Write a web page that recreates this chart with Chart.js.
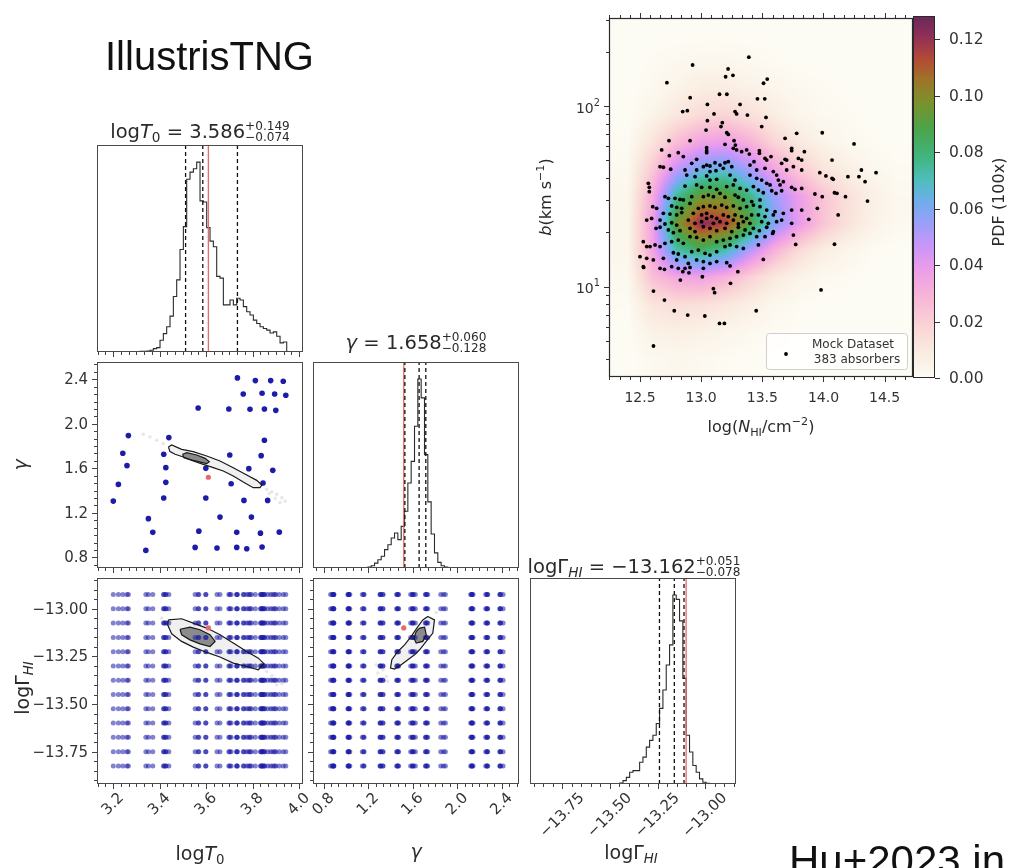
<!DOCTYPE html>
<html>
<head>
<meta charset="utf-8">
<title>IllustrisTNG posterior</title>
<script src="https://cdn.jsdelivr.net/npm/chart.js@4.4.0/dist/chart.umd.min.js"></script>
<style>
  html, body { margin: 0; padding: 0; background: #fff; }
  #page { position: relative; width: 1014px; height: 868px; overflow: hidden; }
  #page canvas { position: absolute; left: 0; top: 0; }
</style>
</head>
<body>
<div id="page">
  <canvas id="histT0" width="1014" height="868"></canvas>
  <canvas id="gammaT0" width="1014" height="868"></canvas>
  <canvas id="lgT0" width="1014" height="868"></canvas>
  <canvas id="histGamma" width="1014" height="868"></canvas>
  <canvas id="lgGamma" width="1014" height="868"></canvas>
  <canvas id="histLg" width="1014" height="868"></canvas>
  <canvas id="bN" width="1014" height="868"></canvas>
  <canvas id="cbar" width="1014" height="868"></canvas>
</div>
<script>
// ---------- data ----------

// emulator training models: (logT0, gamma) of each simulation
const modelLogT0 = [3.201, 3.223, 3.242, 3.260, 3.266, 3.341, 3.352, 3.371, 3.418, 3.418, 3.427, 3.427,
  3.440, 3.553, 3.566, 3.569, 3.599, 3.599, 3.647, 3.660, 3.698, 3.702, 3.708, 3.735, 3.732, 3.732,
  3.760, 3.763, 3.775, 3.784, 3.789, 3.795, 3.812, 3.834, 3.841, 3.837, 3.841, 3.845, 3.851, 3.851,
  3.865, 3.878, 3.887, 3.895, 3.900, 3.915, 3.932, 3.943];
const modelGamma = [1.306, 1.456, 1.735, 1.624, 1.894, 0.863, 1.148, 1.025, 1.333, 1.726, 1.606, 1.474,
  1.876, 0.890, 2.142, 1.036, 1.600, 1.333, 0.884, 1.162, 2.133, 1.720, 1.462, 2.412, 1.025, 0.890,
  2.268, 1.312, 0.878, 1.597, 2.130, 1.162, 2.388, 1.018, 0.893, 1.714, 2.274, 1.468, 2.133, 1.852,
  1.312, 2.388, 1.582, 2.268, 2.121, 1.027, 2.382, 2.256];
// photoionisation rates paired with every thermal model
const gridLogGammaHI = [-12.925, -13.0, -13.075, -13.15, -13.225, -13.3, -13.375, -13.45, -13.525,
  -13.6, -13.675, -13.75, -13.825];

// true parameters of the mock
const truthLogT0 = 3.61, truthGamma = 1.52, truthLogGammaHI = -13.10;

// marginal posteriors (peak = 100), bins start + width
const t0BinStart = 3.316, t0BinWidth = 0.01434;
const t0Counts = [0.4, 0.4, 0.5, 0.9, 1.8, 2.3, 6.2, 9.7, 13.3, 18.9, 29.2, 38, 54, 66, 91, 94.7, 96.5,
  100, 79.6, 79, 65.5, 58.4, 55.4, 39.8, 38.9, 24.8, 24.8, 27.4, 24.8, 28.3, 27.4, 23.9, 21.2, 19.5,
  16.8, 15, 13.3, 12.4, 11.5, 10, 10.6, 8.3, 4.8, 5.3];
const gammaBinStart = 1.198, gammaBinWidth = 0.0299;
const gammaCounts = [0.5, 1.2, 2.6, 4.4, 6.2, 9.7, 12.3, 15.9, 18.5, 15, 22, 30, 45, 56.4, 75, 100,
  90, 60, 35, 18, 8, 3, 1.2, 0.5];
const lgBinStart = -13.449, lgBinWidth = 0.01747;
const lgCounts = [0.5, 1.8, 3.5, 6.2, 7.1, 7.1, 11.5, 14.2, 19.5, 23.1, 25.8, 32, 40, 49.7, 63, 73.6,
  100, 97.7, 86.3, 55.9, 25.8, 16.9, 9.8, 6.2, 2.7, 0.9, 0.4];

// 16th / 50th / 84th percentiles
const qLogT0 = [3.512, 3.586, 3.735];
const qGamma = [1.530, 1.658, 1.718];
const qLogGammaHI = [-13.240, -13.162, -13.111];

// 68% / 95% contours of the joint posteriors
const cT0GammaOuter = [[3.438, 1.791], [3.452, 1.810], [3.495, 1.771], [3.545, 1.750], [3.603, 1.711],
  [3.660, 1.666], [3.717, 1.606], [3.775, 1.540], [3.818, 1.492], [3.840, 1.450], [3.832, 1.426],
  [3.803, 1.426], [3.760, 1.477], [3.717, 1.531], [3.674, 1.576], [3.631, 1.606], [3.588, 1.636],
  [3.545, 1.666], [3.502, 1.702], [3.467, 1.726], [3.445, 1.750]];
const cT0GammaInner = [[3.499, 1.726], [3.517, 1.741], [3.560, 1.720], [3.596, 1.690], [3.614, 1.660],
  [3.603, 1.642], [3.567, 1.660], [3.531, 1.678], [3.505, 1.696]];
const cT0LgOuter = [[3.438, -13.058], [3.495, -13.052], [3.545, -13.075], [3.603, -13.101], [3.660, -13.136],
  [3.717, -13.180], [3.775, -13.224], [3.825, -13.259], [3.849, -13.288], [3.825, -13.320], [3.775, -13.303],
  [3.717, -13.285], [3.660, -13.253], [3.603, -13.229], [3.545, -13.201], [3.495, -13.171], [3.452, -13.131],
  [3.435, -13.084]];
const cT0LgInner = [[3.488, -13.107], [3.531, -13.096], [3.574, -13.110], [3.617, -13.136], [3.639, -13.171],
  [3.617, -13.198], [3.574, -13.184], [3.531, -13.163], [3.495, -13.136]];
const cGammaLgOuter = [[1.736, -13.040], [1.796, -13.058], [1.781, -13.127], [1.722, -13.171], [1.662, -13.215],
  [1.617, -13.241], [1.557, -13.267], [1.497, -13.294], [1.437, -13.316], [1.401, -13.311], [1.413, -13.267],
  [1.467, -13.224], [1.527, -13.189], [1.587, -13.145], [1.647, -13.093], [1.691, -13.058]];
const cGammaLgInner = [[1.662, -13.101], [1.707, -13.096], [1.722, -13.136], [1.691, -13.171], [1.632, -13.180],
  [1.611, -13.154], [1.632, -13.119]];

// loose MCMC samples outside the contours
const tailT0Gamma = [[3.330, 1.906], [3.359, 1.881], [3.388, 1.852], [3.416, 1.822], [3.861, 1.411],
  [3.883, 1.390], [3.904, 1.366], [3.926, 1.337], [3.940, 1.306], [3.897, 1.330], [3.872, 1.373], [3.918, 1.292]];
const tailT0Lg = [[3.409, -13.049], [3.424, -13.072], [3.861, -13.329], [3.883, -13.351], [3.904, -13.372],
  [3.926, -13.393], [3.904, -13.399], [3.875, -13.369]];
const tailGammaLg = [[1.318, -13.302], [1.288, -13.337], [1.363, -13.355], [1.333, -13.320], [1.377, -13.381],
  [1.273, -13.294], [1.812, -13.019]];

// mock absorbers: [log N_HI, log10 b]
const absorbers = [
  [12.93, 2.227], [13.39, 2.270], [12.72, 2.129], [13.22, 2.205], [13.20, 2.162], [13.26, 2.170], [13.54, 2.149],
  [13.51, 2.126], [12.91, 2.046], [13.15, 2.065], [13.21, 2.065], [13.46, 2.040], [13.52, 2.040],
  [13.051, 2.009], [13.318, 2.009], [12.849, 1.969], [12.887, 1.974], [13.277, 1.969], [13.290, 1.956],
  [13.105, 1.956], [13.378, 1.950], [13.530, 1.937], [13.051, 1.919], [13.173, 1.908], [13.162, 1.886],
  [13.495, 1.886], [13.040, 1.867], [13.209, 1.852], [13.222, 1.843], [12.737, 1.808], [12.909, 1.808],
  [13.686, 1.821], [13.781, 1.849], [13.269, 1.808], [13.280, 1.784], [13.195, 1.788], [13.045, 1.769],
  [13.045, 1.753], [13.045, 1.742], [12.677, 1.757], [12.813, 1.742], [12.740, 1.725], [12.854, 1.720],
  [13.263, 1.766], [13.290, 1.757], [13.331, 1.747], [13.372, 1.757], [13.394, 1.734], [13.476, 1.753],
  [13.476, 1.738], [13.740, 1.766], [13.740, 1.753], [13.844, 1.747], [13.571, 1.720], [13.432, 1.692],
  [13.522, 1.710], [13.536, 1.701], [13.686, 1.705], [13.699, 1.701], [13.658, 1.683], [13.795, 1.710],
  [13.822, 1.701], [12.923, 1.683], [12.963, 1.705], [13.018, 1.664], [13.045, 1.673], [13.072, 1.668],
  [13.113, 1.686], [13.154, 1.673], [13.195, 1.686], [13.222, 1.692], [13.250, 1.664], [12.664, 1.664],
  [12.691, 1.661], [12.751, 1.650], [12.868, 1.646], [12.963, 1.646], [13.072, 1.637], [13.121, 1.642],
  [13.181, 1.655], [13.399, 1.673], [13.454, 1.646], [13.522, 1.655], [13.590, 1.637], [13.617, 1.618],
  [13.699, 1.646], [13.754, 1.664], [13.822, 1.646], [12.568, 1.572], [12.576, 1.550], [12.576, 1.526],
  [12.882, 1.618], [12.950, 1.609], [13.045, 1.613], [13.072, 1.590], [13.127, 1.594], [13.236, 1.618],
  [13.277, 1.590], [13.399, 1.618], [13.454, 1.600], [13.495, 1.590], [13.536, 1.572], [13.563, 1.563],
  [13.631, 1.590], [13.645, 1.563], [13.658, 1.531], [13.740, 1.550], [13.767, 1.539], [12.868, 1.557],
  [12.963, 1.563], [13.004, 1.550], [13.072, 1.550], [13.127, 1.539], [13.209, 1.554], [13.263, 1.563],
  [13.318, 1.544], [13.372, 1.535], [13.427, 1.554], [13.468, 1.535], [13.508, 1.520], [13.577, 1.531],
  [13.612, 1.517], [13.672, 1.581], [12.704, 1.498], [12.732, 1.489], [12.786, 1.489], [12.827, 1.483],
  [12.854, 1.480], [12.923, 1.498], [13.018, 1.498], [13.059, 1.507], [13.100, 1.498], [13.154, 1.517],
  [13.195, 1.495], [13.277, 1.507], [13.304, 1.495], [13.345, 1.480], [13.413, 1.471], [13.481, 1.480],
  [13.822, 1.544], [13.740, 1.424], [13.822, 1.424], [12.604, 1.443], [12.636, 1.434], [12.759, 1.447],
  [12.800, 1.439], [12.841, 1.434], [12.909, 1.461], [12.977, 1.434], [13.018, 1.443], [13.072, 1.447],
  [13.113, 1.439], [13.168, 1.452], [13.209, 1.439], [13.263, 1.447], [13.318, 1.434], [13.372, 1.443],
  [13.427, 1.452], [13.481, 1.443], [13.536, 1.424], [13.604, 1.415], [13.672, 1.406], [12.691, 1.406],
  [12.745, 1.402], [12.800, 1.397], [12.841, 1.410], [12.936, 1.406], [13.004, 1.397], [13.045, 1.406],
  [13.086, 1.388], [13.127, 1.378], [13.181, 1.397], [13.222, 1.388], [13.277, 1.397], [13.331, 1.388],
  [13.372, 1.378], [13.413, 1.397], [13.468, 1.397], [13.522, 1.388], [13.590, 1.397], [12.555, 1.369],
  [12.595, 1.378], [12.664, 1.369], [12.704, 1.347], [12.759, 1.354], [12.800, 1.341], [12.895, 1.369],
  [12.950, 1.351], [13.004, 1.360], [13.045, 1.378], [13.100, 1.351], [13.154, 1.360], [13.209, 1.351],
  [13.263, 1.369], [13.304, 1.347], [13.345, 1.360], [13.399, 1.351], [13.495, 1.360], [13.549, 1.351],
  [13.617, 1.360], [13.658, 1.369], [13.740, 1.351], [12.631, 1.323], [12.664, 1.329], [12.732, 1.314],
  [12.773, 1.299], [12.827, 1.310], [12.909, 1.323], [12.950, 1.305], [13.018, 1.332], [13.072, 1.323],
  [13.127, 1.310], [13.195, 1.323], [13.250, 1.305], [13.304, 1.329], [13.359, 1.314], [13.427, 1.323],
  [13.476, 1.310], [13.536, 1.329], [13.590, 1.305], [12.527, 1.249], [12.555, 1.222], [12.582, 1.222],
  [12.623, 1.231], [12.664, 1.222], [12.704, 1.240], [12.759, 1.249], [12.813, 1.258], [12.854, 1.240],
  [12.909, 1.277], [12.963, 1.273], [13.018, 1.258], [13.072, 1.277], [13.127, 1.249], [13.181, 1.258],
  [13.236, 1.268], [13.290, 1.277], [13.345, 1.286], [13.399, 1.295], [13.454, 1.277], [13.522, 1.277],
  [13.585, 1.295], [13.754, 1.286], [13.468, 1.231], [13.773, 1.234], [12.773, 1.188], [12.813, 1.181],
  [12.868, 1.166], [12.923, 1.194], [12.977, 1.203], [13.032, 1.185], [13.072, 1.175], [13.127, 1.194],
  [13.195, 1.222], [13.236, 1.231], [13.290, 1.222], [13.345, 1.212], [12.500, 1.166], [12.555, 1.157],
  [12.609, 1.148], [12.691, 1.157], [12.800, 1.148], [12.895, 1.129], [12.963, 1.148], [13.018, 1.139],
  [13.072, 1.129], [13.127, 1.139], [13.209, 1.133], [13.236, 1.115], [13.508, 1.151], [12.527, 1.111],
  [12.664, 1.102], [12.759, 1.111], [12.813, 1.102], [12.868, 1.102], [12.909, 1.107], [13.018, 1.102],
  [13.99, 1.852], [14.25, 1.790], [14.07, 1.701], [13.97, 1.631], [14.02, 1.613], [14.07, 1.600],
  [14.08, 1.594], [14.20, 1.609], [14.29, 1.609], [14.31, 1.646], [14.34, 1.581], [14.43, 1.631],
  [14.18, 1.498], [14.36, 1.474], [13.95, 1.434], [13.88, 1.373], [14.12, 1.397], [14.09, 1.235],
  [13.98, 0.982], [13.93, 1.513], [13.99, 1.498], [14.09, 1.520], [14.11, 1.517],
  [12.61, 0.976], [12.70, 0.926], [12.78, 0.867], [12.89, 0.843], [13.03, 0.838], [13.15, 0.797],
  [13.19, 0.797], [13.45, 0.867], [12.61, 0.672], [13.10, 0.989], [13.11, 0.967], [13.24, 1.019],
  [13.01, 1.055], [12.85, 1.083], [12.90, 1.077], [12.70, 1.096], [12.83, 1.037], [13.30, 1.083],
  [12.53, 1.107]
];

// smoothed PDF of the mock (colour-bar units) on a coarse grid
const pdfLogN = [12.4, 12.6, 12.8, 13.0, 13.2, 13.4, 13.6, 13.8, 14.0, 14.2, 14.4, 14.6];
const pdfLogB = [0.6, 0.75, 0.9, 1.05, 1.2, 1.35, 1.5, 1.65, 1.8, 1.95, 2.1, 2.25, 2.4];
const pdfValues = [
  [0, 0.002, 0.003, 0.002, 0.001, 0, 0, 0, 0, 0, 0, 0],
  [0, 0.006, 0.007, 0.006, 0.004, 0.002, 0.001, 0, 0, 0, 0, 0],
  [0.001, 0.012, 0.015, 0.014, 0.011, 0.007, 0.003, 0.001, 0, 0, 0, 0],
  [0.002, 0.025, 0.034, 0.036, 0.030, 0.019, 0.010, 0.005, 0.002, 0.001, 0, 0],
  [0.003, 0.035, 0.072, 0.082, 0.072, 0.050, 0.030, 0.016, 0.008, 0.004, 0.001, 0],
  [0.003, 0.036, 0.095, 0.122, 0.116, 0.090, 0.060, 0.040, 0.024, 0.013, 0.006, 0.002],
  [0.003, 0.032, 0.075, 0.095, 0.095, 0.078, 0.055, 0.038, 0.024, 0.014, 0.007, 0.002],
  [0.002, 0.022, 0.048, 0.062, 0.065, 0.052, 0.035, 0.022, 0.012, 0.007, 0.003, 0.001],
  [0.001, 0.012, 0.026, 0.036, 0.038, 0.030, 0.018, 0.010, 0.005, 0.002, 0.001, 0],
  [0, 0.005, 0.011, 0.016, 0.018, 0.014, 0.008, 0.004, 0.002, 0.001, 0, 0],
  [0, 0.002, 0.005, 0.008, 0.008, 0.006, 0.004, 0.002, 0.001, 0, 0, 0],
  [0, 0.001, 0.002, 0.003, 0.003, 0.002, 0.001, 0, 0, 0, 0, 0],
  [0, 0, 0, 0, 0, 0, 0, 0, 0, 0, 0, 0]
];

// ---------- styling helpers ----------
const W = 1014, H = 868;
const FONT = "'DejaVu Sans'";
const ARIAL = "'Liberation Sans', Arial";
const BLUE = '#1c1ca8';
const RED = '#e66a68';

function steps(a, b, d) {
  const out = [];
  for (let v = a; v <= b + 1e-9; v += d) out.push(+v.toFixed(6));
  return out;
}
const minus = s => s.replace('-', '\u2212');

// colour map of the PDF bar
const cmapStops = [
  [0.000, [253, 252, 244]], [0.008, [250, 238, 226]], [0.018, [250, 214, 214]], [0.028, [248, 184, 214]],
  [0.038, [238, 158, 232]], [0.046, [205, 150, 248]], [0.054, [160, 158, 250]], [0.062, [115, 172, 238]],
  [0.070, [80, 190, 190]], [0.078, [65, 182, 130]], [0.088, [75, 165, 75]], [0.098, [125, 145, 45]],
  [0.106, [160, 115, 40]], [0.113, [180, 75, 55]], [0.120, [150, 50, 85]], [0.1283, [105, 40, 90]]
];
function cmap(v) {
  if (v <= cmapStops[0][0]) return cmapStops[0][1];
  for (let i = 1; i < cmapStops.length; i++) {
    const [v1, c1] = cmapStops[i];
    if (v <= v1) {
      const [v0, c0] = cmapStops[i - 1];
      const f = (v - v0) / (v1 - v0);
      return [0, 1, 2].map(k => c0[k] + f * (c1[k] - c0[k]));
    }
  }
  return cmapStops[cmapStops.length - 1][1];
}

// bilinear shading of the PDF grid (like imshow interpolation)
function samplePdf(ln, lb) {
  const idx = (arr, v) => {
    if (v <= arr[0]) return [0, 0];
    if (v >= arr[arr.length - 1]) return [arr.length - 2, 1];
    let i = 0;
    while (arr[i + 1] < v) i++;
    return [i, (v - arr[i]) / (arr[i + 1] - arr[i])];
  };
  const [i, fx] = idx(pdfLogN, ln);
  const [j, fy] = idx(pdfLogB, lb);
  const g = pdfValues;
  const a = g[j][i] * (1 - fx) + g[j][i + 1] * fx;
  const b = g[j + 1][i] * (1 - fx) + g[j + 1][i + 1] * fx;
  return a * (1 - fy) + b * fy;
}

// text with sub/superscripts, drawn on the canvas
function drawRich(ctx, t) {
  const fam = t.family || FONT, sz = t.size;
  const fontFor = kind => {
    const it = kind === 'i' || kind === 'subi';
    const sm = kind === 'sub' || kind === 'subi' || kind === 'sup';
    const size = kind === 'pm' ? sz * 0.62 : sm ? sz * 0.7 : sz;
    return (it ? 'italic ' : '') + size + 'px ' + fam;
  };
  const segs = t.parts.map(([txt, kind = '']) => {
    ctx.font = fontFor(kind);
    const w = kind === 'pm'
      ? Math.max(ctx.measureText(txt[0]).width, ctx.measureText(txt[1]).width)
      : ctx.measureText(txt).width;
    return { txt, kind, w };
  });
  const total = segs.reduce((s, g) => s + g.w, 0);
  let x = t.align === 'left' ? 0 : t.align === 'right' ? -total : -total / 2;
  ctx.save();
  ctx.translate(t.x, t.y);
  if (t.angle) ctx.rotate(t.angle);
  ctx.fillStyle = t.color || '#2a2a2a';
  ctx.textAlign = 'left';
  ctx.textBaseline = 'alphabetic';
  segs.forEach(g => {
    ctx.font = fontFor(g.kind);
    if (g.kind === 'pm') {
      ctx.fillText(g.txt[0], x, -0.42 * sz);
      ctx.fillText(g.txt[1], x, 0.14 * sz);
    } else {
      const dy = g.kind === 'sup' ? -0.42 * sz : (g.kind === 'sub' || g.kind === 'subi') ? 0.22 * sz : 0;
      ctx.fillText(g.txt, x, dy);
    }
    x += g.w;
  });
  ctx.restore();
}

// frame, outward ticks, tick labels and free text
function drawAxis(chart, ax) {
  const ctx = chart.ctx, a = chart.chartArea, s = chart.scales[ax.scale];
  const lo = Math.min(s.min, s.max), hi = Math.max(s.min, s.max);
  const inside = v => v >= lo - 1e-9 && v <= hi + 1e-9;
  ctx.strokeStyle = ax.color || '#444';
  ctx.lineWidth = 1;
  const mark = (v, len) => {
    const p = Math.round(s.getPixelForValue(v)) + 0.5;
    ctx.beginPath();
    if (ax.side === 'bottom') { ctx.moveTo(p, a.bottom); ctx.lineTo(p, a.bottom + len); }
    else if (ax.side === 'top') { ctx.moveTo(p, a.top); ctx.lineTo(p, a.top - len); }
    else if (ax.side === 'left') { ctx.moveTo(a.left, p); ctx.lineTo(a.left - len, p); }
    else { ctx.moveTo(a.right, p); ctx.lineTo(a.right + len, p); }
    ctx.stroke();
  };
  (ax.minor || []).filter(inside).forEach(v => mark(v, 3));
  ax.major.filter(inside).forEach(v => mark(v, 5));
  if (!ax.fmt) return;
  const size = ax.size || 15, pad = ax.pad || 4;
  ctx.fillStyle = '#333';
  ax.major.filter(inside).forEach(v => {
    const p = s.getPixelForValue(v);
    const lab = ax.fmt(v);
    ctx.font = size + 'px ' + FONT;
    if (Array.isArray(lab)) {
      // base with a raised exponent, right-aligned at the left spine
      const wb = ctx.measureText(lab[0]).width;
      ctx.font = (size * 0.7) + 'px ' + FONT;
      const we = ctx.measureText(lab[1]).width;
      const xr = a.left - 5 - pad;
      ctx.textAlign = 'left';
      ctx.textBaseline = 'middle';
      ctx.fillText(lab[1], xr - we, p - 3);
      ctx.font = size + 'px ' + FONT;
      ctx.fillText(lab[0], xr - we - wb, p + 3);
      return;
    }
    if (ax.side === 'bottom' && ax.rotate) {
      const L = ctx.measureText(lab).width, h = size * 0.73;
      const cy = a.bottom + 5 + pad + (L + h) * 0.3536;
      ctx.save();
      ctx.translate(p, cy);
      ctx.rotate(-Math.PI / 4);
      ctx.textAlign = 'center';
      ctx.textBaseline = 'middle';
      ctx.fillText(lab, 0, 0);
      ctx.restore();
    } else if (ax.side === 'bottom') {
      ctx.textAlign = 'center';
      ctx.textBaseline = 'top';
      ctx.fillText(lab, p, a.bottom + 5 + pad);
    } else if (ax.side === 'left') {
      ctx.textAlign = 'right';
      ctx.textBaseline = 'middle';
      ctx.fillText(lab, a.left - 5 - pad, p + 1);
    } else {
      ctx.textAlign = 'left';
      ctx.textBaseline = 'middle';
      ctx.fillText(lab, a.right + 5 + pad, p + 1);
    }
  });
}

const decor = {
  id: 'decor',
  afterDraw(chart, args, opts) {
    const ctx = chart.ctx, a = chart.chartArea;
    ctx.save();
    ctx.strokeStyle = opts.frameColor || '#4a4a4a';
    ctx.lineWidth = opts.frameWidth || 1;
    ctx.strokeRect(a.left + 0.5, a.top + 0.5, a.right - a.left - 1, a.bottom - a.top - 1);
    (opts.axes || []).forEach(ax => drawAxis(chart, ax));
    (opts.texts || []).forEach(t => drawRich(ctx, t));
    if (opts.after) opts.after(ctx, a);
    ctx.restore();
  }
};

const pdfField = {
  id: 'pdfField',
  beforeDatasetsDraw(chart) {
    const { ctx, chartArea: a, scales: { x, y } } = chart;
    const w = Math.round(a.right - a.left), h = Math.round(a.bottom - a.top);
    const img = ctx.createImageData(w, h);
    for (let j = 0; j < h; j++) {
      const lb = Math.log10(y.getValueForPixel(a.top + j + 0.5));
      for (let i = 0; i < w; i++) {
        const c = cmap(samplePdf(x.getValueForPixel(a.left + i + 0.5), lb));
        const k = (j * w + i) * 4;
        img.data[k] = c[0]; img.data[k + 1] = c[1]; img.data[k + 2] = c[2]; img.data[k + 3] = 255;
      }
    }
    ctx.putImageData(img, Math.round(a.left), Math.round(a.top));
  }
};

const cbarFill = {
  id: 'cbarFill',
  beforeDatasetsDraw(chart) {
    const { ctx, chartArea: a, scales: { y } } = chart;
    for (let py = Math.round(a.top); py < a.bottom; py++) {
      const c = cmap(y.getValueForPixel(py + 0.5));
      ctx.fillStyle = `rgb(${c[0] | 0},${c[1] | 0},${c[2] | 0})`;
      ctx.fillRect(a.left, py, a.right - a.left, 1);
    }
  }
};

// one chart per panel; box = [left, top, width, height] of the plot area
function panel(id, box, xr, yr, datasets, decorOpts, extra = [], yType = 'linear') {
  return new Chart(document.getElementById(id), {
    type: 'scatter',
    data: { datasets },
    options: {
      responsive: false,
      animation: false,
      events: [],
      layout: { padding: { left: box[0], top: box[1], right: W - box[0] - box[2], bottom: H - box[1] - box[3] } },
      scales: {
        x: { type: 'linear', display: false, min: xr[0], max: xr[1] },
        y: { type: yType, display: false, min: yr[0], max: yr[1] }
      },
      plugins: { legend: { display: false }, tooltip: { enabled: false }, decor: decorOpts }
    },
    plugins: [decor, ...extra]
  });
}

const pts = arr => arr.map(([x, y]) => ({ x, y }));
const closed = arr => pts([...arr, arr[0]]);

function histSet(start, width, counts) {
  const data = [{ x: start, y: 0 }];
  counts.forEach((c, i) => data.push({ x: start + i * width, y: c }));
  data.push({ x: start + counts.length * width, y: counts[counts.length - 1] });
  data.push({ x: start + counts.length * width, y: 0 });
  return { data, showLine: true, stepped: true, borderColor: '#2b2b2b', borderWidth: 1.1, pointRadius: 0, order: 2 };
}
const vline = (x, color, dash) => ({
  data: [{ x, y: 0 }, { x, y: 200 }], showLine: true, borderColor: color, borderWidth: 1.3,
  borderDash: dash ? [4, 3] : [], pointRadius: 0, order: 1
});
const contourSets = (outer, inner) => [
  { data: closed(outer), showLine: true, pointRadius: 0, borderWidth: 0, fill: 'shape',
    backgroundColor: 'rgba(150,150,150,0.14)', order: 5 },
  { data: closed(inner), showLine: true, pointRadius: 0, borderWidth: 0, fill: 'shape',
    backgroundColor: 'rgba(95,95,95,0.7)', order: 4 },
  { data: closed(outer), showLine: true, pointRadius: 0, borderColor: '#1a1a1a', borderWidth: 1.2, order: 1 },
  { data: closed(inner), showLine: true, pointRadius: 0, borderColor: '#1a1a1a', borderWidth: 1.2, order: 1 }
];
const haze = arr => ({ data: pts(arr), pointRadius: 1.8, pointBorderWidth: 0,
  pointBackgroundColor: 'rgba(110,110,110,0.16)', order: 6 });

// axis ranges
const rT0 = [3.131, 4.017], rGamma = [0.705, 2.555], rLg = [-13.92, -12.838], rHist = [0, 109];
const majT0 = [3.2, 3.4, 3.6, 3.8, 4.0], minT0 = steps(3.0, 4.2, 0.2 / 6);
const majGamma = [0.8, 1.2, 1.6, 2.0, 2.4], minGamma = steps(0.4, 2.8, 0.4 / 6);
const majLg = [-13.75, -13.5, -13.25, -13.0], minLg = steps(-14.0, -12.75, 0.05);
const fmt1 = v => v.toFixed(1);
const fmt2 = v => minus(v.toFixed(2));

const BOX1 = [97, 145, 206, 207], BOX2 = [97, 362, 206, 206], BOX3 = [97, 578, 206, 206];
const BOX4 = [313, 362, 206, 206], BOX5 = [313, 578, 206, 206], BOX6 = [530, 578, 206, 206];
const TITLE = 19.5;

// ---------- corner plot ----------
panel('histT0', BOX1, rT0, rHist, [
  histSet(t0BinStart, t0BinWidth, t0Counts),
  ...qLogT0.map(q => vline(q, '#111', true)),
  vline(truthLogT0, RED, false)
], {
  axes: [{ scale: 'x', side: 'bottom', major: majT0, minor: minT0 }],
  texts: [
    { parts: [['IllustrisTNG']], x: 105, y: 70, size: 40, align: 'left', family: ARIAL, color: '#111' },
    { parts: [['log'], ['T', 'i'], ['0', 'sub'], [' = 3.586'], [['+0.149', '\u22120.074'], 'pm']],
      x: 200, y: 138, size: TITLE }
  ]
});

panel('gammaT0', BOX2, rT0, rGamma, [
  { data: [{ x: truthLogT0, y: truthGamma }], pointRadius: 2.6, pointBorderWidth: 0, pointBackgroundColor: RED, order: 0 },
  { data: modelLogT0.map((x, i) => ({ x, y: modelGamma[i] })), pointRadius: 2.8, pointBorderWidth: 0,
    pointBackgroundColor: BLUE, order: 2 },
  ...contourSets(cT0GammaOuter, cT0GammaInner),
  haze(tailT0Gamma)
], {
  axes: [
    { scale: 'x', side: 'bottom', major: majT0, minor: minT0 },
    { scale: 'y', side: 'left', major: majGamma, minor: minGamma, fmt: fmt1 }
  ],
  texts: [{ parts: [['\u03b3', 'i']], x: 27, y: 465, size: 19, angle: -Math.PI / 2 }]
});

panel('lgT0', BOX3, rT0, rLg, [
  { data: [{ x: truthLogT0, y: truthLogGammaHI }], pointRadius: 2.6, pointBorderWidth: 0, pointBackgroundColor: RED, order: 0 },
  { data: modelLogT0.flatMap(x => gridLogGammaHI.map(y => ({ x, y }))), pointRadius: 2.5, pointBorderWidth: 0,
    pointBackgroundColor: 'rgba(28,28,168,0.55)', order: 2 },
  ...contourSets(cT0LgOuter, cT0LgInner),
  haze(tailT0Lg)
], {
  axes: [
    { scale: 'x', side: 'bottom', major: majT0, minor: minT0, fmt: fmt1, rotate: true, pad: 3 },
    { scale: 'y', side: 'left', major: majLg, minor: minLg, fmt: fmt2 }
  ],
  texts: [
    { parts: [['log'], ['\u0393'], ['HI', 'subi']], x: 29, y: 688, size: 19, angle: -Math.PI / 2 },
    { parts: [['log'], ['T', 'i'], ['0', 'sub']], x: 200, y: 860, size: 19 }
  ]
});

panel('histGamma', BOX4, rGamma, rHist, [
  histSet(gammaBinStart, gammaBinWidth, gammaCounts),
  ...qGamma.map(q => vline(q, '#111', true)),
  vline(truthGamma, RED, false)
], {
  axes: [{ scale: 'x', side: 'bottom', major: majGamma, minor: minGamma }],
  texts: [{ parts: [['\u03b3', 'i'], [' = 1.658'], [['+0.060', '\u22120.128'], 'pm']], x: 416, y: 349, size: TITLE }]
});

panel('lgGamma', BOX5, rGamma, rLg, [
  { data: [{ x: truthGamma, y: truthLogGammaHI }], pointRadius: 2.6, pointBorderWidth: 0, pointBackgroundColor: RED, order: 0 },
  { data: modelGamma.flatMap(x => gridLogGammaHI.map(y => ({ x, y }))), pointRadius: 2.5, pointBorderWidth: 0,
    pointBackgroundColor: 'rgba(28,28,168,0.55)', order: 2 },
  ...contourSets(cGammaLgOuter, cGammaLgInner),
  haze(tailGammaLg)
], {
  axes: [
    { scale: 'x', side: 'bottom', major: majGamma, minor: minGamma, fmt: fmt1, rotate: true, pad: 3 },
    { scale: 'y', side: 'left', major: majLg, minor: minLg }
  ],
  texts: [{ parts: [['\u03b3', 'i']], x: 416, y: 858, size: 19 }]
});

panel('histLg', BOX6, rLg, rHist, [
  histSet(lgBinStart, lgBinWidth, lgCounts),
  ...qLogGammaHI.map(q => vline(q, '#111', true)),
  vline(truthLogGammaHI, RED, false)
], {
  axes: [{ scale: 'x', side: 'bottom', major: majLg, minor: minLg, fmt: fmt2, rotate: true, pad: 3 }],
  texts: [
    { parts: [['log'], ['\u0393'], ['HI', 'subi'], [' = \u221213.162'], [['+0.051', '\u22120.078'], 'pm']],
      x: 634, y: 573, size: TITLE },
    { parts: [['log'], ['\u0393'], ['HI', 'subi']], x: 631, y: 859, size: 19 },
    { parts: [['Hu+2023 in']], x: 789, y: 875, size: 42, align: 'left', family: ARIAL, color: '#111' }
  ]
});

// ---------- b vs N_HI of the mock ----------
const rLogN = [12.2465, 14.732], rB = [3.165, 306.9];
const majLogN = [12.5, 13.0, 13.5, 14.0, 14.5], minLogN = steps(12.0, 15.0, 0.5 / 6);
const majB = [10, 100], minB = [4, 5, 6, 7, 8, 9, 20, 30, 40, 50, 60, 70, 80, 90, 200, 300];

panel('bN', [609, 18, 304, 359], rLogN, rB, [
  { data: absorbers.map(([n, lb]) => ({ x: n, y: Math.pow(10, lb) })), pointRadius: 1.9, pointBorderWidth: 0,
    pointBackgroundColor: '#000', order: 1 }
], {
  frameColor: '#2a2a2a',
  frameWidth: 1.2,
  axes: [
    { scale: 'x', side: 'bottom', major: majLogN, minor: minLogN, fmt: fmt1, size: 14, pad: 9, color: '#333' },
    { scale: 'x', side: 'top', major: majLogN, minor: minLogN, color: '#333' },
    { scale: 'y', side: 'left', major: majB, minor: minB, fmt: v => ['10', v === 10 ? '1' : '2'], size: 14, pad: 4, color: '#333' }
  ],
  texts: [
    { parts: [['b', 'i'], ['(km s'], ['\u22121', 'sup'], [')']], x: 551, y: 197, size: 16, angle: -Math.PI / 2 },
    { parts: [['log('], ['N', 'i'], ['HI', 'sub'], ['/cm'], ['\u22122', 'sup'], [')']], x: 761, y: 432, size: 16 }
  ],
  after(ctx) {
    // legend box
    const x = 766.5, y = 333.5, w = 141, h = 36, r = 3;
    ctx.fillStyle = 'rgba(255,255,255,0.8)';
    ctx.strokeStyle = '#cfcfcf';
    ctx.lineWidth = 1;
    ctx.beginPath();
    ctx.roundRect(x, y, w, h, r);
    ctx.fill();
    ctx.stroke();
    ctx.fillStyle = '#000';
    ctx.beginPath();
    ctx.arc(786, 354, 1.9, 0, Math.PI * 2);
    ctx.fill();
    ctx.fillStyle = '#333';
    ctx.font = '12px ' + FONT;
    ctx.textAlign = 'center';
    ctx.textBaseline = 'alphabetic';
    ctx.fillText('Mock Dataset', 853, 348);
    ctx.fillText('383 absorbers', 857, 363);
  }
}, [pdfField], 'logarithmic');

// colour bar
panel('cbar', [913, 16, 22, 362], [0, 1], [0, 0.1283], [], {
  frameColor: '#2a2a2a',
  axes: [{ scale: 'y', side: 'right', major: [0, 0.02, 0.04, 0.06, 0.08, 0.10, 0.12], fmt: v => v.toFixed(2),
    size: 15.5, pad: 9, color: '#333' }],
  texts: [{ parts: [['PDF (100x)']], x: 1004, y: 202, size: 16, angle: -Math.PI / 2 }]
}, [cbarFill]);
</script>
